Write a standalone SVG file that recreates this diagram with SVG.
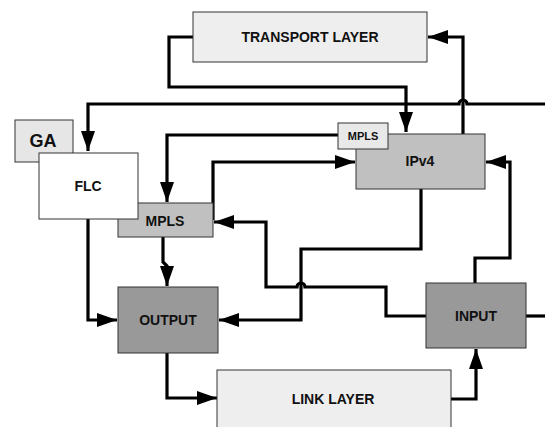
<svg xmlns="http://www.w3.org/2000/svg" width="545" height="427" viewBox="0 0 545 427">
<style>
.box{stroke:#333;stroke-width:1}
.t{font-family:"Liberation Sans",Arial,sans-serif;font-weight:bold;font-size:14px;fill:#111;text-anchor:middle}
.c{fill:none;stroke:#000;stroke-width:3.2;stroke-linejoin:miter}
.a{marker-end:url(#ah)}
</style>
<defs>
<marker id="ah" markerUnits="userSpaceOnUse" markerWidth="22" markerHeight="14" refX="20" refY="7" orient="auto">
<path d="M0,0 L20,7 L0,14 Z" fill="#000"/>
</marker>
</defs>
<rect width="545" height="427" fill="#fff"/>
<g id="connectors">
<path class="c a" d="M193,37 H169 V87 H406 V132"/>
<path class="c a" d="M463,134 V37 H428"/>
<path class="c a" d="M545,104 H467 A4,4 0 0 0 459,104 H88 V151"/>
<path class="c a" d="M338,135 H167 V202"/>
<path class="c a" d="M213,220 V162 H355"/>
<path class="c a" d="M426,316 H386 V287 H305 A4,4 0 0 0 297,287 H266 V222 H214"/>
<path class="c a" d="M421,189 V249 H301 V320 H219"/>
<path class="c a" d="M475,283 V258 H510 V162 H486"/>
<path class="c" d="M526,316 H545"/>
<path class="c a" d="M451,399 H476 V349"/>
<path class="c a" d="M163,237 V262 L167,266 V286"/>
<path class="c a" d="M88,219 V320 H117"/>
<path class="c a" d="M167,353 V398 H217"/>
</g>
<g id="transport"><rect class="box" x="193" y="12" width="234" height="50" fill="#eeeeee"/><text class="t" x="310" y="42">TRANSPORT LAYER</text></g>
<g id="ga"><rect class="box" x="15" y="120" width="58" height="42" fill="#e6e6e6"/><text class="t" x="43" y="147" style="font-size:18px">GA</text></g>
<g id="mpls1"><rect class="box" x="118" y="203" width="95" height="34" fill="#c0c0c0"/><text class="t" x="165" y="226">MPLS</text></g>
<g id="flc"><rect class="box" x="39" y="153" width="99" height="66" fill="#ffffff"/><text class="t" x="88" y="191">FLC</text></g>
<g id="ipv4"><rect class="box" x="356" y="134" width="129" height="55" fill="#c0c0c0"/><text class="t" x="420" y="166">IPv4</text></g>
<g id="mpls2"><rect class="box" x="338" y="123" width="50" height="26" fill="#e8e8e8"/><text class="t" x="363" y="140" style="font-size:11px">MPLS</text></g>
<g id="output"><rect class="box" x="118" y="287" width="100" height="66" fill="#999999"/><text class="t" x="168" y="325">OUTPUT</text></g>
<g id="input"><rect class="box" x="426" y="283" width="100" height="65" fill="#999999"/><text class="t" x="476" y="321">INPUT</text></g>
<g id="link"><rect class="box" x="217" y="370" width="234" height="70" fill="#eeeeee"/><text class="t" x="333" y="404">LINK LAYER</text></g>
</svg>
